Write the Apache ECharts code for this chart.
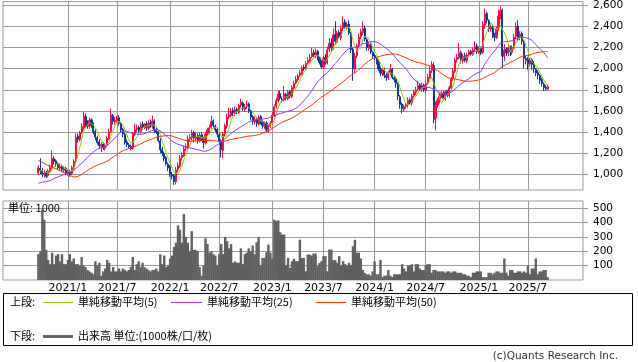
<!DOCTYPE html>
<html><head><meta charset="utf-8">
<script src="https://cdn.jsdelivr.net/npm/echarts@6/dist/echarts.min.js"></script>
<style>html,body{margin:0;padding:0;background:#fff}#c{width:638px;height:362px}</style>
</head><body><div id="c"></div>
<script>
// ---- weekly categories (Mondays), axis spans 2020/5/18 .. 296 weeks
const startDate = '2020-05-18';
const weekCount = 296;
const firstDataWeek = 18; // 2020/9/21
// weeks that carry a tick label / vertical grid line
const tickWeeks = ['2021/1/4','2021/6/28','2022/1/3','2022/6/27','2023/1/2','2023/7/3','2024/1/1','2024/7/1','2025/1/6','2025/6/30'];
const tickLabels = ['2021/1','2021/7','2022/1','2022/7','2023/1','2023/7','2024/1','2024/7','2025/1','2025/7'];
const priceTicks = [1000,1200,1400,1600,1800,2000,2200,2400,2600];
const volumeTicks = [100,200,300,400,500];

// closes of the 49 weeks before the first drawn candle (only feed the moving averages)
const priorCloses = [1470,1490,1510,1500,1530,1520,1490,1500,1480,1510,1530,1500,1480,1460,1490,1470,
 1450,1400,1300,1150,1000,880,820,850,880,880,900,920,910,930,920,910,
 900,890,880,870,860,850,840,850,860,860,870,880,900,1000,1020,1040,1030];

const opens = [
1010,1055,1035,995,1015,985,1025,1065,1145,1125,
1095,1055,1075,1035,1055,1005,1025,1005,1055,1125,
1360,1325,1395,1440,1545,1485,1455,1515,1465,1405,
1345,1305,1265,1285,1245,1275,1335,1405,1555,1495,
1505,1535,1475,1425,1375,1305,1275,1265,1245,1375,
1425,1445,1405,1475,1445,1475,1435,1485,1455,1505,
1415,1405,1315,1235,1195,1155,1095,1065,995,985,
925,1045,1075,1155,1175,1245,1255,1335,1345,1395,
1335,1365,1315,1375,1335,1295,1385,1415,1445,1505,
1455,1425,1375,1315,1225,1385,1455,1545,1555,1605,
1575,1615,1585,1655,1675,1615,1645,1665,1595,1545,
1495,1525,1475,1545,1495,1455,1485,1415,1455,1485,
1555,1645,1695,1765,1715,1705,1755,1715,1785,1735,
1815,1865,1895,1935,1955,2015,1995,2055,2075,2115,
2155,2125,2165,2095,2065,2015,2105,2055,2185,2245,
2195,2325,2255,2345,2295,2385,2445,2395,2425,2335,
2185,1995,2125,2215,2305,2345,2385,2275,2195,2235,
2155,2125,2095,2065,1995,1955,1985,1935,1915,1965,
1995,1915,1905,1855,1735,1665,1615,1645,1655,1705,
1675,1745,1775,1805,1845,1805,1845,1795,1865,1915,
1985,2030,1530,1655,1695,1745,1765,1715,1785,1745,
1815,1905,1975,2085,2105,2155,2075,2125,2075,2135,
2165,2135,2185,2215,2155,2195,2155,2415,2525,2455,
2375,2405,2315,2295,2385,2495,2555,2115,2185,2145,
2205,2155,2195,2305,2405,2295,2335,2255,2095,2085,
2045,2085,2035,1995,1965,1935,1895,1855,1825,1805];
const closes = [
1060,1030,1000,1010,980,1030,1060,1150,1120,1100,
1060,1070,1040,1050,1010,1020,1000,1060,1120,1350,
1330,1390,1450,1550,1480,1460,1510,1470,1400,1350,
1300,1270,1280,1250,1270,1340,1400,1560,1500,1510,
1530,1480,1420,1380,1300,1280,1260,1240,1380,1420,
1440,1410,1470,1450,1470,1440,1480,1460,1500,1420,
1400,1320,1230,1200,1150,1100,1060,1000,980,930,
1040,1080,1150,1180,1240,1260,1330,1350,1390,1340,
1360,1320,1370,1340,1300,1380,1420,1440,1500,1460,
1420,1380,1310,1230,1380,1460,1540,1560,1600,1580,
1610,1590,1650,1680,1620,1640,1660,1600,1540,1500,
1520,1480,1540,1500,1460,1480,1420,1450,1480,1560,
1640,1700,1760,1720,1700,1760,1720,1780,1740,1820,
1860,1900,1930,1960,2010,2000,2050,2080,2110,2150,
2130,2160,2100,2060,2020,2100,2060,2180,2240,2200,
2320,2260,2340,2300,2380,2440,2400,2420,2340,2180,
2000,2120,2220,2300,2350,2380,2280,2200,2230,2160,
2120,2100,2060,2000,1960,1980,1940,1920,1960,1990,
1920,1900,1860,1740,1660,1620,1640,1660,1700,1680,
1740,1780,1800,1840,1810,1840,1800,1860,1920,1980,
2040,1520,1650,1700,1740,1760,1720,1780,1750,1820,
1900,1980,2080,2110,2150,2080,2120,2080,2130,2160,
2140,2180,2210,2160,2190,2150,2420,2520,2460,2380,
2400,2320,2300,2380,2500,2550,2120,2180,2150,2200,
2160,2200,2300,2400,2300,2330,2260,2100,2080,2050,
2080,2040,2000,1960,1940,1890,1860,1820,1810,1830];
const highs = [
1085,1150,1060,1040,1030,1050,1090,1225,1170,1140,
1110,1095,1090,1075,1070,1045,1040,1080,1140,1385,
1385,1410,1480,1590,1574,1510,1540,1530,1490,1425,
1365,1330,1300,1300,1290,1360,1430,1620,1570,1540,
1550,1560,1495,1440,1390,1330,1295,1280,1400,1480,
1470,1460,1490,1500,1485,1500,1510,1520,1555,1520,
1440,1420,1340,1260,1215,1170,1110,1085,1020,1000,
1066,1110,1180,1207,1270,1290,1367,1380,1420,1410,
1390,1385,1395,1400,1350,1400,1440,1470,1555,1520,
1470,1440,1390,1330,1400,1480,1570,1630,1625,1630,
1640,1630,1670,1715,1690,1665,1700,1680,1610,1560,
1545,1540,1560,1560,1510,1500,1500,1470,1500,1590,
1660,1725,1790,1790,1735,1837,1770,1800,1800,1840,
1885,1930,1950,1990,2030,2040,2073,2110,2140,2195,
2180,2190,2180,2110,2080,2120,2140,2210,2290,2290,
2383,2450,2360,2370,2410,2497,2470,2440,2460,2350,
2200,2150,2240,2330,2380,2450,2410,2290,2260,2250,
2170,2140,2110,2080,2020,2000,2010,1960,1980,2045,
2007,1930,1920,1870,1750,1680,1660,1680,1730,1725,
1760,1800,1830,1885,1860,1870,1860,1880,1950,2020,
2073,2060,1690,1725,1770,1790,1790,1800,1800,1840,
1920,2007,2100,2140,2242,2170,2140,2150,2150,2180,
2180,2200,2260,2240,2210,2210,2450,2570,2540,2470,
2420,2420,2340,2400,2560,2590,2570,2233,2200,2232,
2220,2220,2330,2440,2460,2355,2355,2270,2120,2110,
2100,2100,2073,2007,1985,1950,1913,1870,1845,1850];
const lows = [
990,1000,970,965,960,970,1010,1050,1090,1070,
1040,1030,1020,1010,990,985,975,990,1040,1110,
1300,1310,1380,1420,1440,1430,1430,1440,1380,1320,
1280,1240,1207,1230,1225,1260,1320,1390,1470,1470,
1480,1460,1400,1350,1280,1255,1240,1226,1230,1360,
1400,1390,1385,1420,1425,1410,1415,1440,1430,1390,
1380,1300,1200,1170,1120,1080,1030,975,950,897,
900,1020,1056,1130,1160,1220,1240,1310,1320,1300,
1310,1290,1300,1320,1245,1280,1360,1390,1430,1440,
1400,1350,1280,1160,1150,1360,1430,1520,1535,1550,
1550,1570,1570,1630,1600,1590,1620,1580,1510,1470,
1470,1450,1460,1470,1430,1430,1395,1395,1440,1470,
1540,1620,1680,1700,1680,1690,1700,1700,1720,1720,
1800,1850,1880,1920,1940,1980,1980,2040,2060,2100,
2110,2100,2080,2040,2000,2000,2040,2040,2160,2160,
2180,2230,2240,2280,2270,2360,2380,2370,2320,2150,
1885,1960,2100,2200,2280,2320,2260,2170,2170,2140,
2100,2080,2040,1980,1930,1930,1910,1885,1895,1940,
1900,1870,1820,1700,1620,1575,1590,1620,1630,1655,
1650,1725,1750,1790,1790,1780,1780,1770,1850,1900,
1960,1480,1414,1630,1670,1720,1700,1695,1730,1725,
1790,1885,1960,2060,2090,2050,2050,2060,2050,2110,
2120,2120,2160,2140,2138,2130,2140,2380,2430,2350,
2350,2290,2260,2280,2360,2470,2007,2073,2120,2120,
2120,2130,2180,2280,2270,2270,2230,2007,2040,1990,
2020,1990,1960,1930,1900,1856,1830,1790,1790,1795];
// volume, unit 1000
const volumes = [
180,200,490,420,210,140,110,190,110,170,
180,130,180,110,110,140,180,130,150,110,
110,100,160,100,90,70,60,50,40,130,
100,120,30,60,80,140,120,60,90,60,
60,80,60,80,70,60,70,90,160,70,
110,130,90,120,90,80,70,60,70,70,
80,60,180,110,170,90,100,150,170,230,
260,380,350,260,460,300,260,200,340,210,
210,200,90,30,100,290,250,190,200,180,
170,100,180,250,180,300,270,220,250,120,
130,120,120,220,110,180,190,220,200,240,
180,262,300,100,154,154,193,246,190,150,
420,410,415,332,316,316,100,154,85,131,
147,131,131,281,154,154,61,177,177,170,
184,184,96,119,131,166,166,61,212,212,
138,138,120,166,100,131,110,100,120,105,
235,280,190,190,150,70,50,40,40,30,
60,130,40,40,140,20,30,30,70,30,
20,40,40,40,40,110,80,60,100,100,
110,60,110,110,80,70,70,100,110,110,
50,70,70,60,60,60,60,50,60,60,
50,60,60,50,50,50,40,40,30,30,
20,50,50,60,60,60,20,20,20,50,
50,40,50,60,60,50,50,150,50,30,
70,70,50,50,60,60,50,60,50,100,
40,80,80,150,40,60,60,70,70,20];

const maPeriods = [5, 25, 50];
const maColors = ['#99cc00', '#9933ff', '#ff3300'];
const maNames = ['単純移動平均(5)', '単純移動平均(25)', '単純移動平均(50)'];

// ---- build
const cats = [];
const t0 = Date.parse(startDate + 'T00:00:00Z');
for (let i = 0; i < weekCount; i++) {
  const d = new Date(t0 + i * 7 * 86400000);
  cats.push(d.getUTCFullYear() + '/' + (d.getUTCMonth() + 1) + '/' + d.getUTCDate());
}
const tickMap = {};
tickWeeks.forEach((w, k) => tickMap[w] = tickLabels[k]);
const isTick = (idx, val) => tickMap[val] !== undefined;

const n = closes.length;
const candle = cats.map(() => '-');
const vol = cats.map(() => '-');
for (let k = 0; k < n; k++) {
  candle[firstDataWeek + k] = [opens[k], closes[k], lows[k], highs[k]];
  vol[firstDataWeek + k] = volumes[k];
}
const allCloses = priorCloses.concat(closes);
const off = priorCloses.length;
const maSeries = maPeriods.map((p, j) => {
  const data = cats.map(() => '-');
  for (let k = 0; k < n; k++) {
    let s = 0;
    for (let q = off + k - p + 1; q <= off + k; q++) s += allCloses[q];
    data[firstDataWeek + k] = Math.round(s / p * 10) / 10;
  }
  return {type: 'line', name: maNames[j], xAxisIndex: 0, yAxisIndex: 0, data: data,
    showSymbol: false, symbol: 'none', lineStyle: {color: maColors[j], width: 1}, z: 3 + j, silent: true};
});

const UP = '#ff0a46', DOWN = '#0a3a9e', GRID = '#999999';
const axisFont = 'DejaVu Sans';
const jp = '"Noto Sans CJK JP"';

const chart = echarts.init(document.getElementById('c'), null, {renderer: 'canvas'});
chart.setOption({
  animation: false,
  backgroundColor: '#ffffff',
  grid: [
    {left: 3, top: 1, width: 580, height: 189, show: true, borderColor: GRID, borderWidth: 1, backgroundColor: '#fff'},
    {left: 3, top: 201, width: 580, height: 79, show: true, borderColor: GRID, borderWidth: 1, backgroundColor: '#fff'}
  ],
  xAxis: [
    {type: 'category', gridIndex: 0, data: cats, boundaryGap: false,
     axisLine: {show: false}, axisTick: {show: false}, axisLabel: {show: false},
     splitLine: {show: true, interval: isTick, lineStyle: {color: GRID, width: 1}}},
    {type: 'category', gridIndex: 1, data: cats, boundaryGap: false,
     axisLine: {show: false}, axisTick: {show: false},
     axisLabel: {show: true, interval: isTick, formatter: v => tickMap[v] || '', fontSize: 11, fontFamily: axisFont, color: '#000', margin: 3},
     splitLine: {show: true, interval: isTick, lineStyle: {color: GRID, width: 1}}}
  ],
  yAxis: [
    {type: 'value', gridIndex: 0, position: 'right', min: 849, max: 2637, scale: true,
     axisLine: {show: false},
     axisTick: {show: true, customValues: priceTicks, length: 5, lineStyle: {color: GRID}},
     axisLabel: {customValues: priceTicks, formatter: v => v.toLocaleString('en-US'), fontSize: 10.5, fontFamily: axisFont, color: '#000', margin: 10},
     splitLine: {show: true, lineStyle: {color: GRID, width: 1}}},
    {type: 'value', gridIndex: 1, position: 'right', min: 0, max: 550,
     axisLine: {show: false},
     axisTick: {show: true, customValues: volumeTicks, length: 5, lineStyle: {color: GRID}},
     axisLabel: {customValues: volumeTicks, fontSize: 10.5, fontFamily: axisFont, color: '#000', margin: 10},
     splitLine: {show: true, lineStyle: {color: GRID, width: 1}}}
  ],
  series: [
    {type: 'candlestick', xAxisIndex: 0, yAxisIndex: 0, data: candle, barWidth: 1.6, z: 2, silent: true,
     itemStyle: {color: UP, color0: DOWN, borderColor: UP, borderColor0: DOWN, borderWidth: 1}},
    ...maSeries,
    {type: 'bar', xAxisIndex: 1, yAxisIndex: 1, data: vol, barWidth: 2.4, silent: true,
     itemStyle: {color: '#606060'}}
  ],
  graphic: [
    {type: 'text', x: 8, y: 208, z: 100, style: {text: '単位: 1000', font: '11px ' + jp, fill: '#000', verticalAlign: 'middle'}},
    {type: 'rect', shape: {x: 3.5, y: 293.5, width: 629, height: 52}, style: {fill: 'none', stroke: '#000', lineWidth: 1}},
    {type: 'text', x: 10, y: 302, style: {text: '上段:', font: '11px ' + jp, fill: '#000', verticalAlign: 'middle'}},
    {type: 'line', shape: {x1: 43, y1: 302.5, x2: 73, y2: 302.5}, style: {stroke: maColors[0], lineWidth: 1}},
    {type: 'text', x: 78, y: 302, style: {text: maNames[0], font: '11px ' + jp, fill: '#000', verticalAlign: 'middle'}},
    {type: 'line', shape: {x1: 171, y1: 302.5, x2: 202, y2: 302.5}, style: {stroke: maColors[1], lineWidth: 1}},
    {type: 'text', x: 207, y: 302, style: {text: maNames[1], font: '11px ' + jp, fill: '#000', verticalAlign: 'middle'}},
    {type: 'line', shape: {x1: 316, y1: 302.5, x2: 346, y2: 302.5}, style: {stroke: maColors[2], lineWidth: 1}},
    {type: 'text', x: 351, y: 302, style: {text: maNames[2], font: '11px ' + jp, fill: '#000', verticalAlign: 'middle'}},
    {type: 'text', x: 10, y: 336, style: {text: '下段:', font: '11px ' + jp, fill: '#000', verticalAlign: 'middle'}},
    {type: 'line', shape: {x1: 43, y1: 336.5, x2: 73, y2: 336.5}, style: {stroke: '#666666', lineWidth: 3}},
    {type: 'text', x: 78, y: 336, style: {text: '出来高 単位:(1000株/口/枚)', font: '11px ' + jp, fill: '#000', verticalAlign: 'middle'}},
    {type: 'text', x: 618, y: 356, style: {text: '(c)Quants Research Inc.', font: '10.5px ' + axisFont, fill: '#333', align: 'right', verticalAlign: 'middle'}}
  ]
});
</script>
</body></html>
